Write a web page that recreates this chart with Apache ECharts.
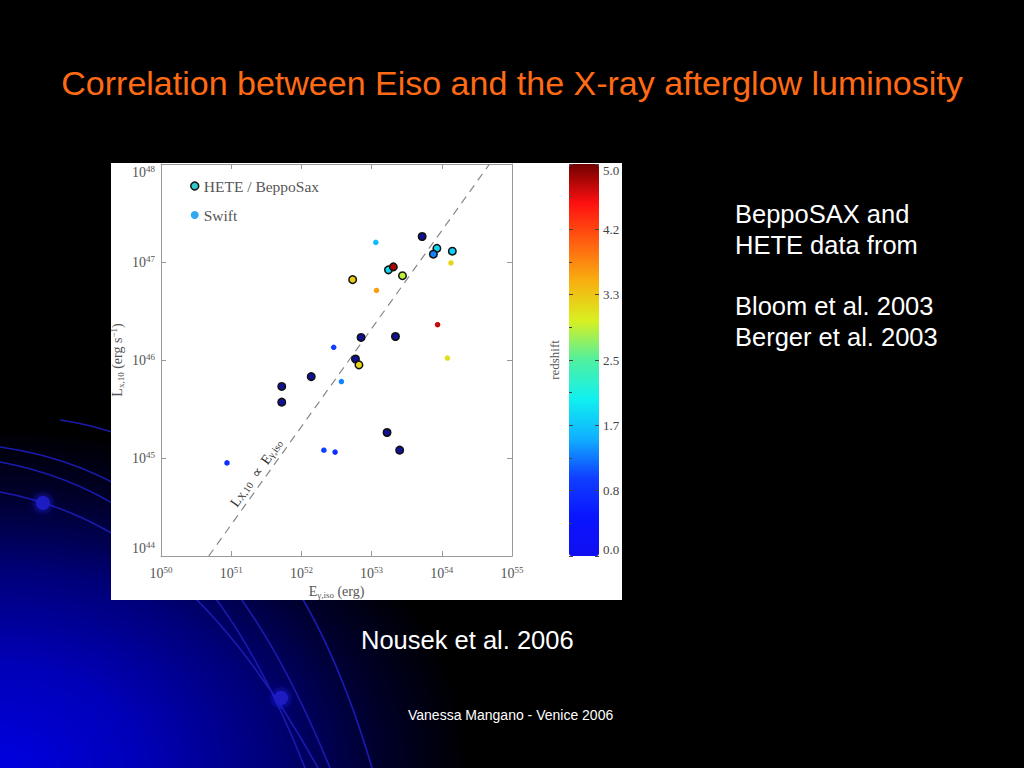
<!DOCTYPE html>
<html><head><meta charset="utf-8">
<script src="https://cdn.jsdelivr.net/npm/echarts@6/dist/echarts.min.js"></script>
<style>
html,body{margin:0;padding:0;background:#000;overflow:hidden;}
#c{width:1024px;height:768px;background:radial-gradient(ellipse 470px 340px at 0px 768px, #0000e0 0%, #0000b8 30%, #000078 58%, #000028 82%, rgba(0,0,0,0) 100%), #000;}
</style></head><body><div id="c"></div>
<script>
// ---------- data (log10 values) ----------
const xTickExponents = [50, 51, 52, 53, 54, 55];
const yTickExponents = [44, 45, 46, 47, 48];
const redshiftTickLabels = ['0.0', '0.8', '1.7', '2.5', '3.3', '4.2', '5.0'];

// HETE / BeppoSAX bursts
const heteLogE = [52.73, 52.85, 52.77, 52.82, 52.14, 51.72, 51.72, 53.22, 53.40, 53.72, 53.93, 53.88, 54.15, 53.24, 53.31, 53.44, 53.34];
const heteLogL = [46.82, 46.23, 46.01, 45.95, 45.83, 45.73, 45.57, 45.26, 45.08, 47.26, 47.14, 47.08, 47.11, 46.92, 46.95, 46.86, 46.24];
const heteZ    = [3.3, 0.1, 0.1, 3.2, 0.1, 0.1, 0.1, 0.1, 0.1, 0.1, 1.8, 1.3, 1.75, 1.8, 4.8, 2.9, 0.1];

// Swift bursts
const swiftLogE = [53.06, 53.07, 53.94, 54.13, 54.08, 52.46, 52.57, 50.94, 52.32, 52.48];
const swiftLogL = [47.20, 46.71, 46.36, 46.99, 46.02, 46.13, 45.78, 44.95, 45.08, 45.06];
const swiftZ    = [1.6, 3.6, 4.7, 3.2, 3.15, 1.0, 1.3, 0.8, 1.0, 0.8];

// L_X,10 proportional to E_gamma,iso : log L = log E - offset
const relationLogE = [50.68, 54.68];
const relationOffset = 6.68;

// ---------- build ----------
const heteData = heteLogE.map((e, i) => [e, heteLogL[i], heteZ[i]]);
const swiftData = swiftLogE.map((e, i) => [e, swiftLogL[i], swiftZ[i]]);
const relationData = relationLogE.map(e => [e, e - relationOffset]);

const jet = ['#1010f0', '#0a14ff', '#1040ff', '#10b0ff', '#10f0f0', '#50f0a0', '#d8f020', '#f8b010', '#ff6010', '#ff1010', '#700000'];
const jetHete = ['#10108c', '#1414c0', '#1040ff', '#10b0ff', '#10f0f0', '#50f0a0', '#d8f020', '#f8b010', '#ff6010', '#ff1010', '#700000'];

const serif = 'Liberation Serif';
const sans = 'Liberation Sans';
const powRich = {
  b: {fontFamily: serif, fontSize: 14, color: '#555', lineHeight: 16},
  e: {fontFamily: serif, fontSize: 9, color: '#555', lineHeight: 9, verticalAlign: 'top'}
};
function powLabel(v) { return '{b|10}{e|' + Math.round(v) + '}'; }

const chart = echarts.init(document.getElementById('c'), null, {renderer: 'svg'});

const arcs = [
  {x1: 0, y1: 447, cpx1: 165, cpy1: 470, cpx2: 255, cpy2: 585, x2: 330, y2: 768},
  {x1: 0, y1: 462, cpx1: 150, cpy1: 490, cpx2: 235, cpy2: 590, x2: 305, y2: 768},
  {x1: 0, y1: 492, cpx1: 125, cpy1: 515, cpx2: 225, cpy2: 600, x2: 318, y2: 768},
  {x1: 60, y1: 420, cpx1: 230, cpy1: 445, cpx2: 320, cpy2: 590, x2: 372, y2: 768}
];

const graphics = [];
arcs.forEach(s => graphics.push({type: 'bezierCurve', z: -5, silent: true, shape: s,
  style: {stroke: '#1a1ab0', lineWidth: 1.6, fill: null}}));
graphics.push({type: 'circle', z: -5, silent: true, shape: {cx: 43, cy: 503, r: 7}, style: {fill: '#1c1cc0', shadowBlur: 8, shadowColor: '#2020ff'}});
graphics.push({type: 'circle', z: -5, silent: true, shape: {cx: 281, cy: 698, r: 7}, style: {fill: '#1c1cc0', shadowBlur: 8, shadowColor: '#2020ff'}});
graphics.push({type: 'rect', z: -4, silent: true, shape: {x: 111, y: 163, width: 511, height: 437}, style: {fill: '#ffffff'}});
graphics.push({type: 'text', z: 10, left: 'center', top: 66, style: {text: 'Correlation between Eiso and the X-ray afterglow luminosity', font: '34px ' + sans, fill: '#ff6a14'}});
const rightLines = [['BeppoSAX and', 214], ['HETE data from', 245], ['Bloom et al. 2003', 306], ['Berger et al. 2003', 337]];
rightLines.forEach(l => graphics.push({type: 'text', z: 10, x: 735, y: l[1], style: {text: l[0], font: '25.5px ' + sans, fill: '#ffffff', textVerticalAlign: 'middle'}}));
graphics.push({type: 'text', z: 10, x: 361, y: 640, style: {text: 'Nousek et al. 2006', font: '25.5px ' + sans, fill: '#ffffff', textVerticalAlign: 'middle'}});
graphics.push({type: 'text', z: 10, x: 408, y: 715, style: {text: 'Vanessa Mangano - Venice 2006', font: '14px ' + sans, fill: '#ffffff', textVerticalAlign: 'middle'}});

const axisGray = '#999';
const option = {
  backgroundColor: 'transparent',
  animation: false,
  graphic: graphics,
  legend: {
    orient: 'vertical', left: 185, top: 173, itemWidth: 8, itemHeight: 8, itemGap: 13,
    selectedMode: false,
    textStyle: {fontFamily: serif, fontSize: 15.5, color: '#555'},
    data: [
      {name: 'HETE / BeppoSax', icon: 'circle', itemStyle: {color: '#30c8c8', borderColor: '#111', borderWidth: 1.5}},
      {name: 'Swift', icon: 'circle', itemStyle: {color: '#30a8f0', borderWidth: 0}}
    ]
  },
  grid: [
    {left: 161, top: 164, width: 351, height: 392},
    {left: 569, top: 164, width: 30, height: 392}
  ],
  xAxis: [
    {gridIndex: 0, type: 'value', min: 50, max: 55, interval: 1, position: 'bottom',
     axisLine: {lineStyle: {color: axisGray}}, axisTick: {inside: true, length: 5, lineStyle: {color: axisGray}},
     splitLine: {show: false},
     axisLabel: {formatter: powLabel, rich: powRich, margin: 9},
     name: '{b|E}{s|γ,iso}{b| (erg)}', nameLocation: 'middle', nameGap: 27,
     nameTextStyle: {rich: {b: {fontFamily: serif, fontSize: 14, color: '#555', lineHeight: 16},
                            s: {fontFamily: serif, fontSize: 9, color: '#555', lineHeight: 9, verticalAlign: 'bottom'}}}},
    {gridIndex: 0, type: 'value', min: 50, max: 55, interval: 1, position: 'top',
     axisLine: {lineStyle: {color: axisGray}}, axisTick: {inside: true, length: 5, lineStyle: {color: axisGray}},
     splitLine: {show: false}, axisLabel: {show: false}},
    {gridIndex: 1, type: 'value', min: 0, max: 1, show: false}
  ],
  yAxis: [
    {gridIndex: 0, type: 'value', min: 44, max: 48, interval: 1, position: 'left',
     axisLine: {lineStyle: {color: axisGray}}, axisTick: {inside: true, length: 5, lineStyle: {color: axisGray}},
     splitLine: {show: false},
     axisLabel: {formatter: powLabel, rich: powRich, margin: 6,
                 verticalAlignMinLabel: 'bottom', verticalAlignMaxLabel: 'top'},
     name: '{b|L}{s|x,10}{b| (erg s}{p|−1}{b|)}', nameLocation: 'middle', nameGap: 36, nameRotate: 90,
     nameTextStyle: {rich: {b: {fontFamily: serif, fontSize: 14, color: '#555', lineHeight: 16},
                            s: {fontFamily: serif, fontSize: 9, color: '#555', lineHeight: 9, verticalAlign: 'bottom'},
                            p: {fontFamily: serif, fontSize: 9, color: '#555', lineHeight: 9, verticalAlign: 'top'}}}},
    {gridIndex: 0, type: 'value', min: 44, max: 48, interval: 1, position: 'right',
     axisLine: {lineStyle: {color: axisGray}}, axisTick: {inside: true, length: 5, lineStyle: {color: axisGray}},
     splitLine: {show: false}, axisLabel: {show: false}},
    {gridIndex: 1, type: 'value', min: 0, max: 5, interval: 5 / 6, position: 'left', z: 10,
     axisLine: {show: false}, axisTick: {inside: true, length: 4, lineStyle: {color: '#444'}},
     minorTick: {show: true, splitNumber: 2, length: 3, lineStyle: {color: '#444'}},
     splitLine: {show: false}, axisLabel: {show: false},
     name: 'redshift', nameLocation: 'middle', nameGap: 8, nameRotate: 90,
     nameTextStyle: {fontFamily: serif, fontSize: 13, color: '#555'}},
    {gridIndex: 1, type: 'value', min: 0, max: 5, interval: 5 / 6, position: 'right', z: 10,
     axisLine: {show: false}, axisTick: {inside: true, length: 4, lineStyle: {color: '#444'}},
     splitLine: {show: false},
     axisLabel: {margin: 4, fontFamily: serif, fontSize: 13, color: '#444',
                 formatter: v => redshiftTickLabels[Math.round(v / (5 / 6))],
                 verticalAlignMinLabel: 'bottom', verticalAlignMaxLabel: 'top'}}
  ],
  visualMap: [
    {type: 'continuous', min: 0, max: 5, dimension: 2, seriesIndex: 1, show: true,
     left: 569, top: 164, itemWidth: 30, itemHeight: 392, padding: 0, calculable: false,
     hoverLink: false, text: null, showLabel: false, inRange: {color: jet}},
    {type: 'continuous', min: 0, max: 5, dimension: 2, seriesIndex: 2, show: false,
     inRange: {color: jetHete}}
  ],
  series: [
    {name: 'relation', type: 'line', xAxisIndex: 0, yAxisIndex: 0, data: relationData,
     symbol: 'none', silent: true, z: 1,
     lineStyle: {color: '#888', width: 1.2, type: [8, 6]}},
    {name: 'Swift', type: 'scatter', xAxisIndex: 0, yAxisIndex: 0, data: swiftData,
     symbol: 'circle', symbolSize: 5.5, itemStyle: {borderWidth: 0, opacity: 1}, z: 3},
    {name: 'HETE / BeppoSax', type: 'scatter', xAxisIndex: 0, yAxisIndex: 0, data: heteData,
     symbol: 'circle', symbolSize: 7.5, itemStyle: {borderColor: '#111', borderWidth: 1.5, opacity: 1}, z: 4}
  ]
};
chart.setOption(option);

// label along the proportionality line
const labelE = 51.47;
const toPx = v => chart.convertToPixel({xAxisIndex: 0, yAxisIndex: 0}, v);
const p = toPx([labelE, labelE - relationOffset]);
const a0 = toPx(relationData[0]), a1 = toPx(relationData[1]);
const ang = Math.atan2(a0[1] - a1[1], a1[0] - a0[0]);
graphics.push({type: 'text', z: 50, x: p[0], y: p[1], rotation: ang, silent: true,
  style: {text: '{b|L}{s|X,10}{b|  ∝  E}{s|γ,iso}', textAlign: 'center', textVerticalAlign: 'bottom',
    rich: {b: {fontFamily: serif, fontSize: 14, fill: '#333', lineHeight: 16, padding: [0, 0, 3, 0]},
           s: {fontFamily: serif, fontSize: 10, fill: '#333', lineHeight: 10, verticalAlign: 'bottom', padding: [0, 0, 3, 0]}}}});
chart.setOption({graphic: graphics});
</script></body></html>
